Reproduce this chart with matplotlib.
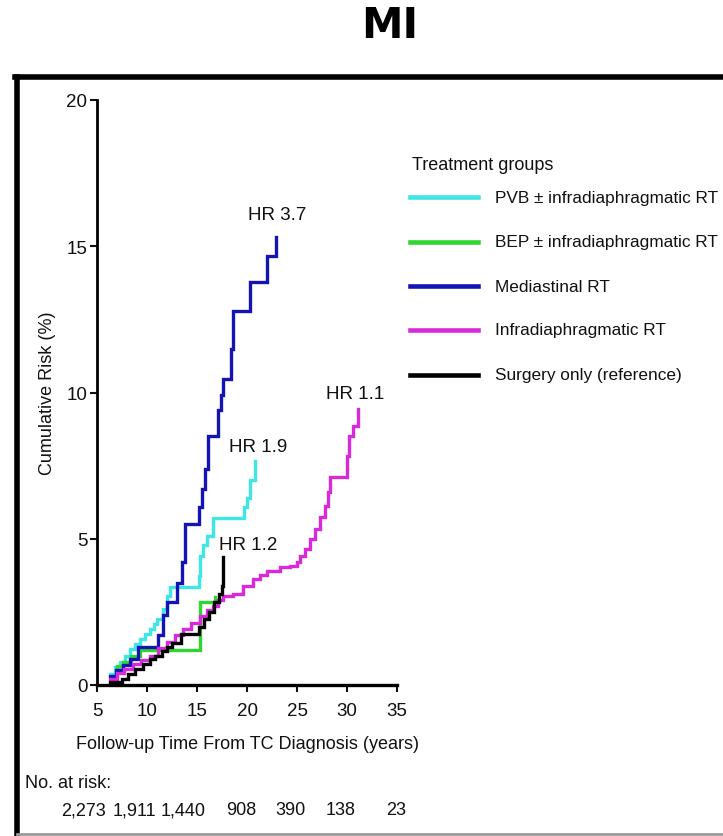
import matplotlib
matplotlib.use("Agg")
import matplotlib.pyplot as plt
from matplotlib.lines import Line2D
from matplotlib.transforms import blended_transform_factory

# ---------------- data ----------------
pvb_t = [6.3, 6.8, 7.3, 7.8, 8.3, 8.8, 9.3, 9.8, 10.3, 10.7, 11.0, 11.6, 12.0, 12.3, 15.2, 15.3, 15.6, 16.0, 16.6, 19.7, 20.0, 20.3, 20.8]
pvb_r = [0.37, 0.6, 0.8, 1.0, 1.23, 1.4, 1.57, 1.75, 1.9, 2.1, 2.26, 2.6, 3.05, 3.35, 3.73, 4.4, 4.8, 5.1, 5.7, 6.1, 6.4, 7.0, 7.65]

bep_t = [6.5, 7.0, 7.6, 8.4, 9.3, 15.3, 16.8]
bep_r = [0.3, 0.65, 0.8, 1.0, 1.2, 2.84, 3.0]

med_t = [6.3, 6.9, 7.6, 8.3, 9.1, 11.1, 11.6, 12.0, 13.0, 13.5, 13.8, 15.2, 15.5, 15.8, 16.1, 17.1, 17.4, 17.6, 18.4, 18.6, 20.3, 22.0, 22.9]
med_r = [0.3, 0.5, 0.7, 0.9, 1.3, 1.7, 2.4, 2.85, 3.5, 4.2, 5.5, 6.1, 6.7, 7.4, 8.5, 9.4, 9.9, 10.46, 11.5, 12.8, 13.78, 14.67, 15.32]

inf_t = [6.3, 7.0, 7.7, 8.6, 9.4, 10.3, 11.1, 12.0, 12.8, 13.6, 14.4, 15.3, 16.0, 16.6, 17.1, 17.6, 18.6, 19.6, 20.6, 21.3, 22.0, 23.3, 24.3, 25.0, 25.3, 25.8, 26.3, 26.8, 27.3, 27.8, 28.1, 28.3, 30.0, 30.2, 30.6, 31.1]
inf_r = [0.2, 0.4, 0.55, 0.72, 0.85, 1.0, 1.25, 1.47, 1.7, 1.91, 2.13, 2.36, 2.55, 2.7, 2.9, 3.04, 3.11, 3.38, 3.62, 3.75, 3.9, 4.03, 4.07, 4.2, 4.41, 4.65, 4.99, 5.33, 5.74, 6.12, 6.6, 7.11, 7.83, 8.5, 8.85, 9.44]

sur_t = [6.3, 7.5, 8.1, 8.8, 9.6, 10.3, 10.8, 11.5, 12.0, 12.5, 13.4, 15.2, 15.7, 16.2, 16.7, 17.2, 17.5, 17.6]
sur_r = [0.1, 0.2, 0.38, 0.55, 0.72, 0.89, 1.0, 1.17, 1.3, 1.45, 1.74, 2.0, 2.26, 2.5, 2.85, 3.1, 3.4, 4.38]

group_labels = ["PVB \u00b1 infradiaphragmatic RT", "BEP \u00b1 infradiaphragmatic RT",
                "Mediastinal RT", "Infradiaphragmatic RT", "Surgery only (reference)"]
hr_labels = ["HR 1.9", None, "HR 3.7", "HR 1.1", "HR 1.2"]

x_ticks = [5, 10, 15, 20, 25, 30, 35]
y_ticks = [0, 5, 10, 15, 20]
at_risk_years = [5, 10, 15, 20, 25, 30, 35]
at_risk = ["2,273", "1,911", "1,440", "908", "390", "138", "23"]

# ---------------- style ----------------
colors = ["#3fe6e6", "#2fd62f", "#1414b4", "#d82ad8", "#000000"]
hr_pos = [(21.1, 8.15), None, (23.0, 16.1), (30.8, 9.95), (20.1, 4.8)]
FONT = ["Liberation Sans Narrow", "Liberation Sans", "DejaVu Sans"]
plt.rcParams["font.family"] = FONT
FS = 13
TXT = "#111111"

W, H = 723, 837
fig = plt.figure(figsize=(W / 100, H / 100), dpi=100)
fig.patch.set_facecolor("white")

def fx(px):
    return px / W

def fy(py):
    return 1 - py / H

ax = fig.add_axes([fx(97), fy(686), (397 - 97) / W, (686 - 101) / H])
series = [(pvb_t, pvb_r), (bep_t, bep_r), (med_t, med_r), (inf_t, inf_r), (sur_t, sur_r)]
for (t, r), c in zip(series, colors):
    ax.step(t, r, where="post", color=c, lw=2.4, solid_joinstyle="miter", zorder=3)

for lab, pos in zip(hr_labels, hr_pos):
    if lab:
        ax.text(pos[0], pos[1], lab, ha="center", va="center", fontsize=FS + 0.5, color=TXT)

ax.set_xlim(5, 35)
ax.set_ylim(0, 20)
ax.set_xticks(x_ticks)
ax.set_yticks(y_ticks)
ax.tick_params(axis="both", labelsize=FS + 0.5, width=1.5, length=5, colors=TXT)
ax.tick_params(axis="x", pad=7)
ax.tick_params(axis="y", pad=2)
for s in ["top", "right"]:
    ax.spines[s].set_visible(False)
ax.spines["left"].set_linewidth(2.0)
ax.spines["bottom"].set_linewidth(2.4)
ax.set_xlabel("Follow-up Time From TC Diagnosis (years)", fontsize=FS, color=TXT)
ax.xaxis.set_label_coords(0.5, -0.085)
ax.set_ylabel("Cumulative Risk (%)", fontsize=FS, color=TXT)
ax.yaxis.set_label_coords(-0.135, 0.5)

# at risk table
fig.text(fx(25), fy(784), "No. at risk:", fontsize=FS, ha="left", va="center", color=TXT)
tr = blended_transform_factory(ax.transData, fig.transFigure)
for yr, n in zip(at_risk_years, at_risk):
    ax.text(yr + 0.9, fy(811), n, transform=tr, ha="right", va="center",
            fontsize=FS, color=TXT)

# legend (manual)
fig.text(fx(412), fy(165), "Treatment groups", fontsize=FS, ha="left", va="center", color=TXT)
rows = [198, 243, 287, 331, 376]
for lab, c, ry in zip(group_labels, colors, rows):
    fig.add_artist(Line2D([fx(410), fx(478)], [fy(ry), fy(ry)], color=c, lw=3.3))
    fig.text(fx(495), fy(ry), lab, fontsize=FS - 0.6, ha="left", va="center", color=TXT)

# title
fig.text(fx(390), fy(26), "MI", fontsize=30, weight="bold", ha="center", va="center",
         family=["DejaVu Sans"])

# frame
fig.add_artist(Line2D([fx(17), fx(17)], [fy(78), fy(835)], color="black", lw=4))
fig.add_artist(Line2D([fx(15), fx(723)], [fy(78), fy(78)], color="black", lw=4))
fig.add_artist(Line2D([fx(17), fx(723)], [fy(835), fy(835)], color="#999999", lw=2))

fig.savefig("out.png", dpi=100, facecolor="white")
